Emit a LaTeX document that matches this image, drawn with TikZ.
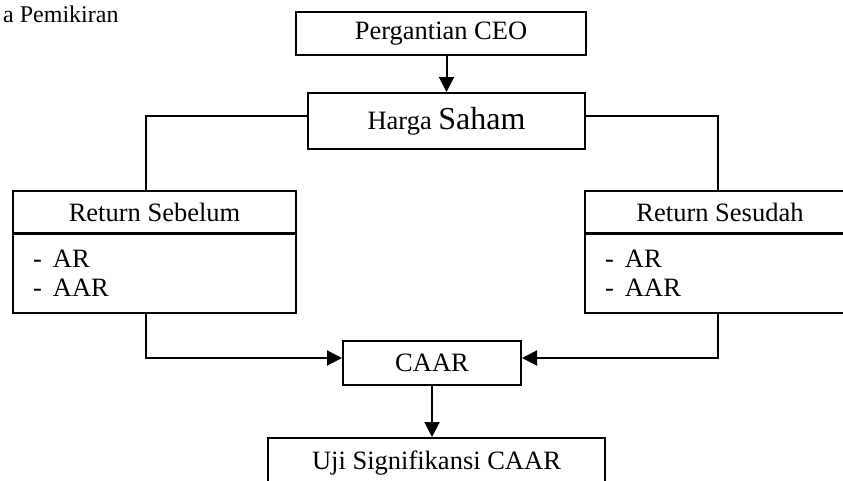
\documentclass[tikz,border=0pt]{standalone}
\usepackage{fontspec}
\setmainfont{Liberation Serif}
\usetikzlibrary{arrows.meta}
\begin{document}
\begin{tikzpicture}
    [   x=1pt,y=-1pt,
        box/.style={draw=black,line width=2pt,inner sep=0pt,minimum width=#1,
            font=\fontsize{26.5}{29}\selectfont},
        listbox/.style={box=#1,text width=#1-40pt,align=left},
        arr/.style={line width=2pt,-{Triangle[length=15pt,width=15pt]}},
        conn/.style={line width=2pt},
    ]
        \useasboundingbox (0,0) rectangle (843,480);
        \node[anchor=base west,inner sep=0pt,font=\fontsize{24}{28}\selectfont] (title) at (3,22) {a Pemikiran};
        \node[box=290pt,minimum height=43pt] (ceo) at (441,33.5) {Pergantian CEO};
        \node[box=277pt,minimum height=56pt] (hs) at (446.5,121)
            {Harga {\fontsize{32}{36}\selectfont Saham}};
        \node[box=283pt,minimum height=42pt] (rs) at (154.5,212) {Return Sebelum};
        \node[listbox=283pt,minimum height=79pt] (rsl) at (154.5,273.5)
            {\makebox[20pt][l]{-}AR\\\makebox[20pt][l]{-}AAR};
        \node[box=270pt,minimum height=42pt] (rsd) at (720,212) {Return Sesudah};
        \node[listbox=270pt,minimum height=79pt] (rsdl) at (720,273.5)
            {\makebox[20pt][l]{-}AR\\\makebox[20pt][l]{-}AAR};
        \node[box=178pt,minimum height=44pt] (caar) at (432,363) {CAAR};
        \node[box=337pt,minimum height=50pt] (uji) at (436.5,463) {Uji Signifikansi CAAR};
        \coordinate (lt) at (146,116);
        \coordinate (rt) at (718,116);
        \coordinate (lb) at (146,358);
        \coordinate (rb) at (718,358);
        \draw[arr] (hs.north |- ceo.south) -- (hs.north);
        \draw[conn] (lt -| hs.west) -- (lt) -- (lt |- rs.north);
        \draw[conn] (rt -| hs.east) -- (rt) -- (rt |- rsd.north);
        \draw[arr] (lb |- rsl.south) -- (lb) -- (lb -| caar.west);
        \draw[arr] (rb |- rsdl.south) -- (rb) -- (rb -| caar.east);
        \draw[arr] (caar.south) -- (caar.south |- uji.north);
    \end{tikzpicture}
\end{document}
